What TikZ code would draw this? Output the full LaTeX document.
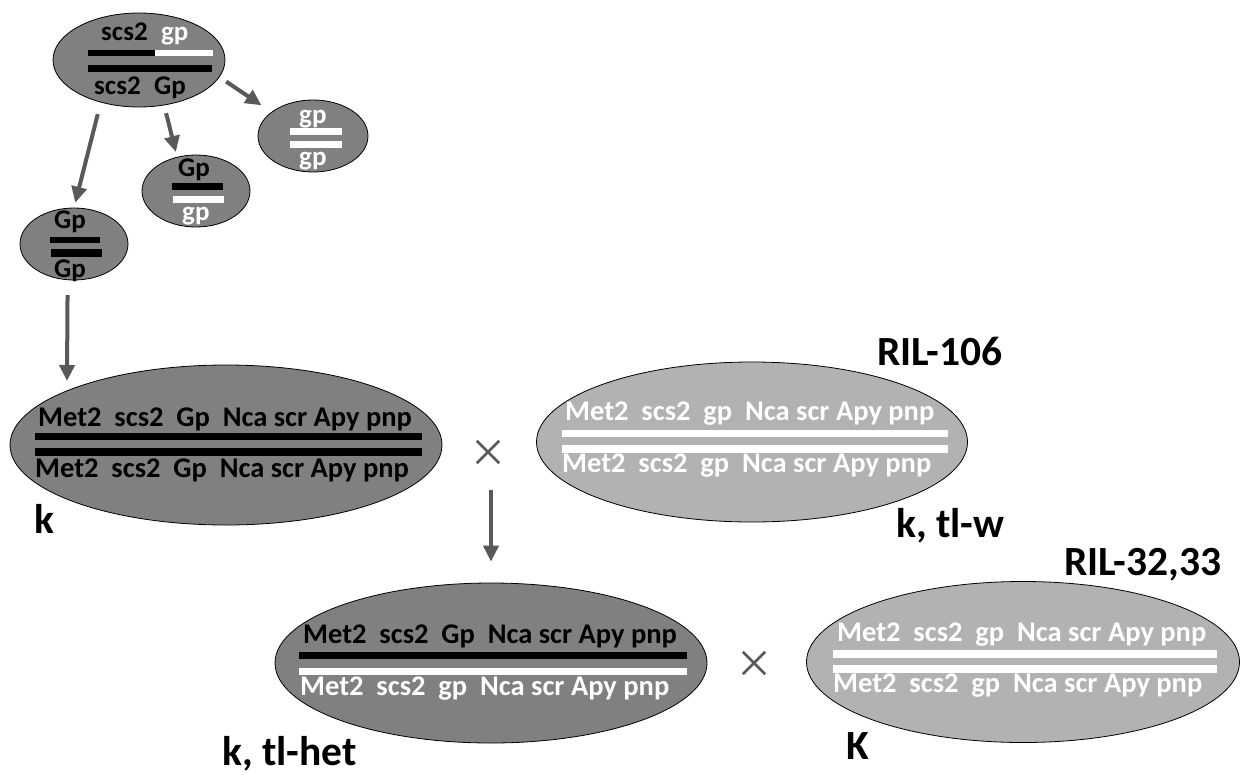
\documentclass[tikz,border=0pt]{standalone}
\usepackage{fontspec}
\setmainfont{Carlito}
\usetikzlibrary{shapes.geometric,arrows.meta}
\definecolor{darkfill}{RGB}{128,128,128}
\definecolor{lightfill}{RGB}{178,178,178}
\definecolor{arrowgray}{RGB}{89,89,89}
\newcommand\rowG[1]{Met2\ \ scs2\ \ #1\ \ Nca scr Apy pnp}
\begin{document}
\begin{tikzpicture}[x=1pt,y=-1pt,
  ell/.style={ellipse,draw=black,line width=0.8pt,inner sep=0pt},
  darkell/.style={ell,fill=darkfill},
  lightell/.style={ell,fill=lightfill},
  txt/.style={inner sep=0pt,anchor=base west,font=\fontsize{27}{30}\selectfont\bfseries},
  gene/.style={inner sep=0pt,anchor=base west,font=\fontsize{28.5}{32}\selectfont\bfseries},
  lbl/.style={inner sep=0pt,anchor=base west,font=\fontsize{41.5}{48}\selectfont\bfseries},
  arr/.style={draw=arrowgray,line width=4pt,-{Triangle[width=15pt,length=16pt]}},
  xline/.style={draw=arrowgray,line width=2.5pt},
  crossbox/.style={inner sep=0pt,minimum size=22pt}
]
\useasboundingbox (0,0) rectangle (1248,774);
\fill[white] (0,0) rectangle (1248,774);

% ---- top ellipse: scs2 gp / scs2 Gp
\node[darkell,minimum width=172pt,minimum height=94pt] (top) at (139,60) {};
\fill[black] (88,50) rectangle (155,56);
\fill[white] (155,50) rectangle (213,56);
\fill[black] (88,65) rectangle (212,72);
\node[txt] (t1) at (101,40) {scs2};
\node[txt,text=white] (t2) at (161,40) {gp};
\node[txt] (t3) at (94,94) {scs2};
\node[txt] (t4) at (154,94) {Gp};

% ---- Gp / gp
\node[darkell,minimum width=108pt,minimum height=72pt] (hetsm) at (196,191) {};
\fill[black] (172,183) rectangle (223,190);
\fill[white] (173,196) rectangle (224,203);
\node[txt] (h1) at (178,176) {Gp};
\node[txt,text=white] (h2) at (182,220) {gp};

% ---- gp / gp
\node[darkell,minimum width=110pt,minimum height=72pt] (recsm) at (313,136) {};
\fill[white] (290,128) rectangle (342,135);
\fill[white] (290,141) rectangle (342,148);
\node[txt,text=white] (r1) at (299,123) {gp};
\node[txt,text=white] (r2) at (299,165) {gp};

% ---- Gp / Gp
\node[darkell,minimum width=108pt,minimum height=72pt] (domsm) at (74,244) {};
\fill[black] (50,237) rectangle (100,243);
\fill[black] (51,249) rectangle (102,257);
\node[txt] (d1) at (54,228) {Gp};
\node[txt] (d2) at (54,277) {Gp};

% ---- big k ellipse
\node[darkell,minimum width=432pt,minimum height=160pt] (kell) at (226,445) {};
\fill[black] (35,433) rectangle (422,440);
\fill[black] (35,448) rectangle (422,456);
\node[gene] (k1) at (38,426) {\rowG{Gp}};
\node[gene] (k2) at (35,477) {\rowG{Gp}};
\node[lbl] (klab) at (34,533) {k};

% ---- RIL-106
\node[lightell,minimum width=431pt,minimum height=160pt] (ril106) at (752,442) {};
\fill[white] (562,430) rectangle (948,437);
\fill[white] (562,445) rectangle (948,453);
\node[gene,text=white] (w1) at (565,420) {\rowG{gp}};
\node[gene,text=white] (w2) at (562,472) {\rowG{gp}};
\node[lbl] (rlab) at (877,365) {RIL-106};
\node[lbl] (wlab) at (896,537) {k, tl-w};

% ---- k, tl-het
\node[darkell,minimum width=432pt,minimum height=160pt] (het) at (491,663) {};
\fill[black] (299,652) rectangle (687,659);
\fill[white] (299,668) rectangle (687,675);
\node[gene] (e1) at (303,643) {\rowG{Gp}};
\node[gene,text=white] (e2) at (300,695) {\rowG{gp}};
\node[lbl] (hlab) at (222,765) {k, tl-het};

% ---- RIL-32,33
\node[lightell,minimum width=433pt,minimum height=161pt] (ril32) at (1023,662) {};
\fill[white] (833,650) rectangle (1217,658);
\fill[white] (833,665) rectangle (1217,673);
\node[gene,text=white] (s1) at (837,641) {\rowG{gp}};
\node[gene,text=white] (s2) at (833,692) {\rowG{gp}};
\node[lbl] (slab) at (1064,575) {RIL-32,33};
\node[lbl] (Klab) at (846,759) {K};

% ---- crosses
\node[crossbox] (cross1) at (488,452) {};
\draw[xline] (cross1.north west) -- (cross1.south east);
\draw[xline] (cross1.north east) -- (cross1.south west);
\node[crossbox] (cross2) at (754,663) {};
\draw[xline] (cross2.north west) -- (cross2.south east);
\draw[xline] (cross2.north east) -- (cross2.south west);

% ---- arrows
\draw[arr,shorten <=12pt,shorten >=5pt] (top.-132) -- (domsm.north);
\draw[arr,shorten <=8pt,shorten >=5pt] (top.-61) -- (hetsm.119);
\draw[arr,shorten <=8pt,shorten >=12pt] (top.-12) -- (recsm.150);
\coordinate (kin) at (67,381);
\draw[arr,shorten <=15pt] (domsm.-100) -- (kin);
\draw[arr,shorten <=38pt,shorten >=21pt] (het.north |- cross1.center) -- (het.north);
\end{tikzpicture}
\end{document}
